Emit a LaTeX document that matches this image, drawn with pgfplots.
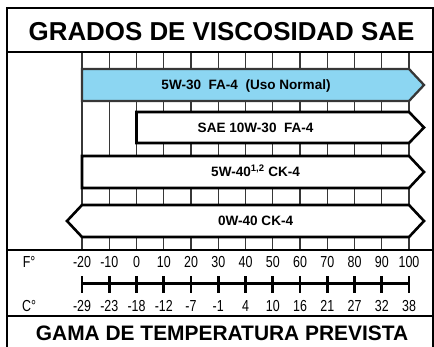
\documentclass[border=0pt]{standalone}
\usepackage{pgfplots}
\pgfplotsset{compat=1.18}
\usepackage{pgfplotstable}
\usepackage{fontspec}
\setmainfont{Liberation Sans}
\newfontfamily\narrowfont[FakeStretch=0.78]{Liberation Sans}
\definecolor{oilblue}{RGB}{140,214,242}
\definecolor{gridc}{RGB}{55,55,55}

% temperature scale: Fahrenheit and Celsius
\pgfplotstableread{
F C
-20 -29
-10 -23
0 -18
10 -12
20 -7
30 -1
40 4
50 10
60 16
70 21
80 27
90 32
100 38
}\scaletab

\begin{document}
\begin{tikzpicture}
\begin{axis}[
    width=434bp, height=347bp, scale only axis,
    xmin=-50.09, xmax=109.17,
    ymin=0, ymax=347, y dir=reverse,
    hide axis, clip=false,
]
\coordinate (bl) at (rel axis cs:0,0);
\coordinate (tr) at (rel axis cs:1,1);

% vertical grid lines
\pgfplotsinvokeforeach{-20,-10,...,100}{
  \draw[gridc, line width=1.1bp] (axis cs:#1,52) -- (axis cs:#1,250);
}

% viscosity grades (x in degrees F)
\addplot[fill=oilblue, draw=gridc, line width=2.3bp, line join=miter]
  coordinates {(-20,69) (100,69) (105.5,85) (100,101) (-20,101)} -- cycle;
\addplot[fill=white, draw=black, line width=2.6bp, line join=miter]
  coordinates {(0,112) (100,112) (105.5,127.5) (100,143) (0,143)} -- cycle;
\addplot[fill=white, draw=black, line width=2.6bp, line join=miter]
  coordinates {(-20,156) (100,156) (105.5,172) (100,188) (-20,188)} -- cycle;
\addplot[fill=white, draw=black, line width=2.6bp, line join=miter]
  coordinates {(-25.5,221) (-20,205) (100,205) (105.5,221) (100,237) (-20,237)} -- cycle;

\begin{scope}[font=\fontsize{13.6}{13.6}\selectfont\bfseries]
\node[anchor=base] at (axis cs:40.2,89.9) {5W-30\ \ FA-4\ \ (Uso Normal)};
\node[anchor=base] at (axis cs:43.7,132.4) {SAE 10W-30\ \ FA-4};
\node[anchor=base] at (axis cs:43.7,176.9) {5W-40\textsuperscript{1,2} CK-4};
\node[anchor=base] at (axis cs:43.7,225.9) {0W-40 CK-4};
\end{scope}

% frame
\draw[line width=2bp] (axis cs:-47.52,352) -- (axis cs:-47.52,8)
  -- (axis cs:108.81,8) -- (axis cs:108.81,352);
\draw[line width=2bp] (axis cs:-47.52,52) -- (axis cs:108.81,52);
\draw[line width=2.5bp] (axis cs:-47.52,250) -- (axis cs:108.81,250);
\draw[line width=2.5bp] (axis cs:-47.52,316) -- (axis cs:108.81,316);

% titles
\node[anchor=base, font=\fontsize{26}{26}\selectfont\bfseries]
  at (axis cs:31.2,40) {GRADOS DE VISCOSIDAD SAE};
\node[anchor=base, font=\fontsize{21}{21}\selectfont\bfseries]
  at (axis cs:31.4,340) {GAMA DE TEMPERATURA PREVISTA};

% temperature scale
\addplot[black, line width=3bp] coordinates {(-20,283.5) (100,283.5)};
\addplot[draw=none, mark=none,
  error bars/.cd, y dir=both, y fixed=8.2, error mark=none,
  error bar style={draw=black, line width=2.6bp}]
  table[x=F, y expr=284.5] {\scaletab};
\addplot[draw=none, mark=none, nodes near coords, point meta=explicit symbolic,
  every node near coord/.append style={anchor=base, inner sep=0pt,
    font=\narrowfont\fontsize{16}{16}\selectfont}]
  table[x=F, y expr=267, meta=F] {\scaletab};
\addplot[draw=none, mark=none, nodes near coords, point meta=explicit symbolic,
  every node near coord/.append style={anchor=base, inner sep=0pt,
    font=\narrowfont\fontsize{16}{16}\selectfont}]
  table[x=F, y expr=311, meta=C] {\scaletab};
\node[anchor=base, font=\narrowfont\fontsize{16}{16}\selectfont] at (axis cs:-39.4,267) {F°};
\node[anchor=base, font=\narrowfont\fontsize{16}{16}\selectfont] at (axis cs:-39.4,311) {C°};
\end{axis}
\pgfresetboundingbox
\path[use as bounding box] (bl) rectangle (tr);
\end{tikzpicture}
\end{document}
